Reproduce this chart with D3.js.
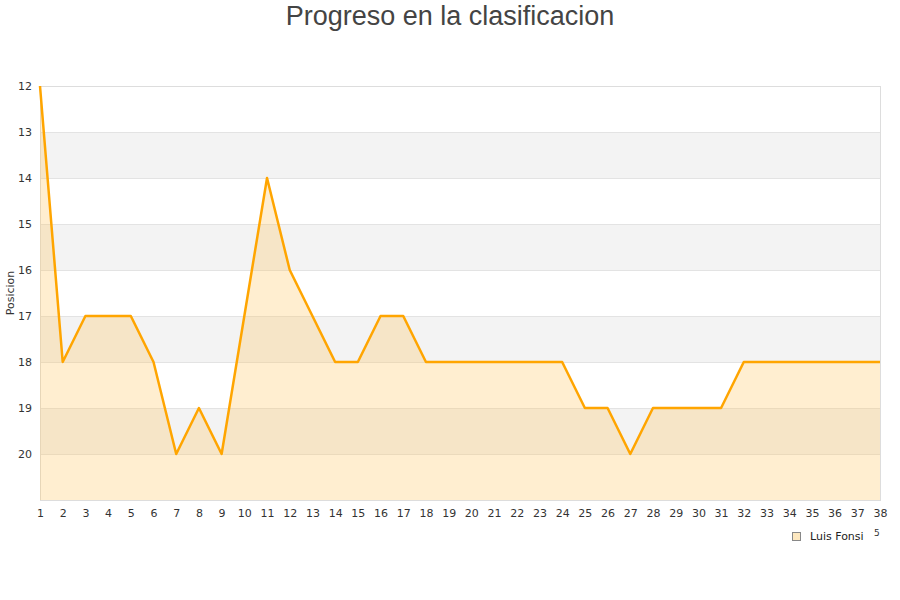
<!DOCTYPE html>
<html><head><meta charset="utf-8">
<script src="https://cdn.jsdelivr.net/npm/d3@7"></script>
<style>body{margin:0;background:#fff}</style>
</head><body>
<svg id="c" width="900" height="600"></svg>
<script>
const jornadas = d3.range(1, 39);
const posiciones = [12,18,17,17,17,18,20,19,20,17,14,16,17,18,18,17,17,18,18,18,18,18,18,18,19,19,20,19,19,19,19,18,18,18,18,18,18,18];
const yTicks = [12,13,14,15,16,17,18,19,20];
const seriesName = "Luis Fonsi";
const title = "Progreso en la clasificacion";

const svg = d3.select("#c");
const L = 40, R = 880, T = 86, B = 500;
const x = d3.scaleLinear().domain([1, 38]).range([L, R]);
const y = d3.scaleLinear().domain([12, 21]).range([T, B]);

// bands
const bands = d3.range(12, 21);
svg.selectAll("rect.band").data(bands).enter().append("rect")
  .attr("x", L).attr("width", R - L)
  .attr("y", d => y(d)).attr("height", d => y(d + 1) - y(d))
  .attr("fill", (d, i) => i % 2 ? "#f3f3f3" : "#ffffff");

// grid
svg.selectAll("line.grid").data(d3.range(12, 22)).enter().append("line")
  .attr("x1", L).attr("x2", R).attr("y1", d => y(d)).attr("y2", d => y(d))
  .attr("stroke", "#e3e3e3").attr("stroke-width", 1).attr("shape-rendering", "crispEdges");

// border
svg.append("rect").attr("x", L).attr("y", T).attr("width", R - L).attr("height", B - T)
  .attr("fill", "none").attr("stroke", "#dddddd").attr("shape-rendering", "crispEdges");

const data = jornadas.map((j, i) => ({j, p: posiciones[i]}));
svg.append("path").datum(data)
  .attr("d", d3.area().x(d => x(d.j)).y0(B).y1(d => y(d.p)))
  .attr("fill", "#ffc864").attr("fill-opacity", 0.3);
svg.append("path").datum(data)
  .attr("d", d3.line().x(d => x(d.j)).y(d => y(d.p)))
  .attr("fill", "none").attr("stroke", "#ffa500").attr("stroke-width", 2.5)
  .attr("stroke-linejoin", "round");

// axes labels
const font = "DejaVu Sans, sans-serif";
const xAxis = d3.axisBottom(x).tickValues(jornadas).tickFormat(d3.format("d")).tickSize(0).tickPadding(9);
const gx = svg.append("g").attr("transform", `translate(0,${B})`).call(xAxis);
gx.select(".domain").remove();
gx.selectAll("text").attr("font-family", font).attr("font-size", 11).attr("fill", "#333");

const yAxis = d3.axisLeft(y).tickValues(yTicks).tickFormat(d3.format("d")).tickSize(0).tickPadding(8);
const gy = svg.append("g").attr("transform", `translate(${L},0)`).call(yAxis);
gy.select(".domain").remove();
gy.selectAll("text").attr("font-family", font).attr("font-size", 11).attr("fill", "#333");

svg.append("text").attr("transform", "translate(14,293) rotate(-90)")
  .attr("text-anchor", "middle").attr("font-family", font).attr("font-size", 11).attr("fill", "#333")
  .text("Posicion");

svg.append("text").attr("x", 450).attr("y", 25).attr("text-anchor", "middle")
  .attr("font-family", "Liberation Sans, Arial, sans-serif").attr("font-size", 27).attr("fill", "#444")
  .text(title);

svg.append("text").attr("x", 874).attr("y", 536).attr("font-family", font).attr("font-size", 9).attr("fill", "#333").text("5");

// legend
svg.append("rect").attr("x", 792.5).attr("y", 532.5).attr("width", 8).attr("height", 8)
  .attr("fill", "#fde8c0").attr("stroke", "#888");
svg.append("text").attr("x", 810).attr("y", 540).attr("font-family", font).attr("font-size", 11).attr("fill", "#222").text(seriesName);
</script>
</body></html>
